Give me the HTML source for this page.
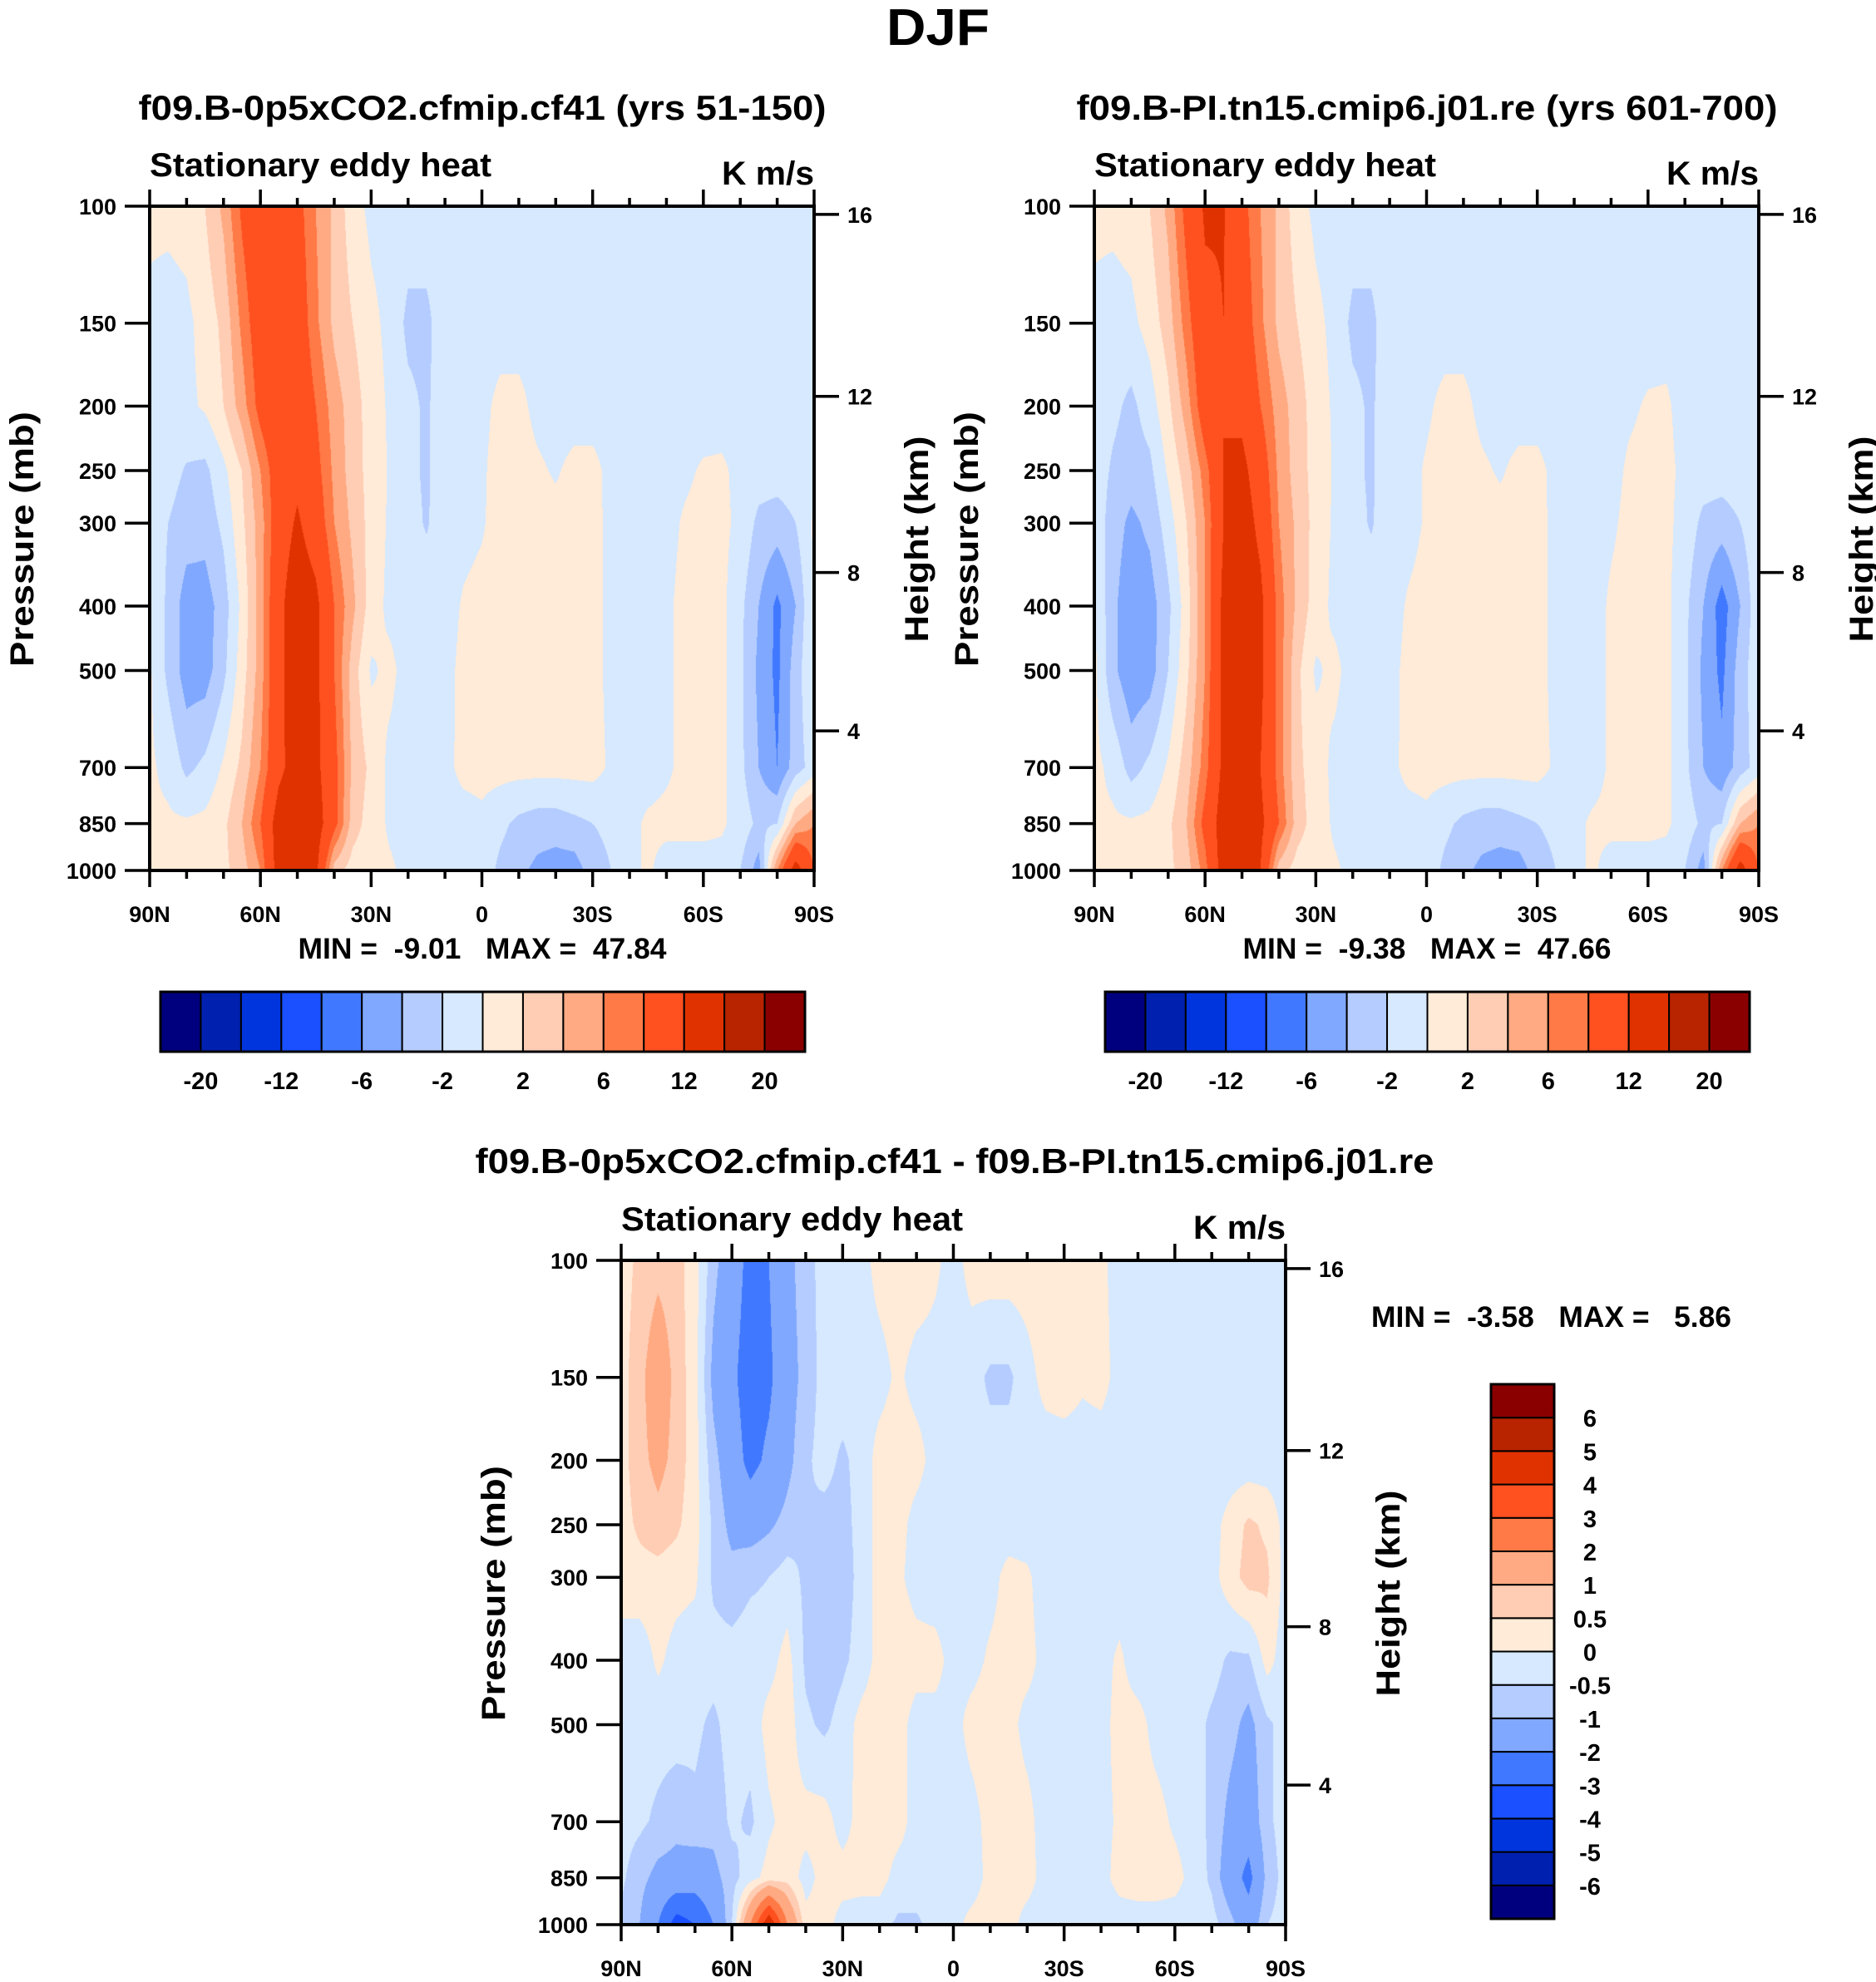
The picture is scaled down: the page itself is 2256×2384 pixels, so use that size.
<!DOCTYPE html>
<html>
<head>
<meta charset="utf-8">
<style>
html,body{margin:0;padding:0;background:#fff;}
#root{position:relative;width:2256px;height:2384px;overflow:hidden;background:#fff;font-family:"Liberation Sans",Arial,sans-serif;}
canvas{position:absolute;}
svg{position:absolute;left:0;top:0;}
text{font-family:"Liberation Sans",Arial,sans-serif;font-weight:bold;fill:#000;}
</style>
</head>
<body>
<div id="root">
<canvas id="c1" width="799" height="799" style="left:180px;top:248px"></canvas>
<canvas id="c2" width="799" height="799" style="left:1316px;top:248px"></canvas>
<canvas id="c3" width="799" height="799" style="left:747px;top:1516px"></canvas>
<svg id="ov" width="2256" height="2384" viewBox="0 0 2256 2384">
<text x="1128" y="54" font-size="62" text-anchor="middle" textLength="124" lengthAdjust="spacingAndGlyphs">DJF</text>
<text x="580" y="144" font-size="42" text-anchor="middle" textLength="827" lengthAdjust="spacingAndGlyphs">f09.B-0p5xCO2.cfmip.cf41 (yrs 51-150)</text>
<text x="1716" y="144" font-size="42" text-anchor="middle" textLength="843" lengthAdjust="spacingAndGlyphs">f09.B-PI.tn15.cmip6.j01.re (yrs 601-700)</text>
<text x="1148" y="1411" font-size="42" text-anchor="middle" textLength="1153" lengthAdjust="spacingAndGlyphs">f09.B-0p5xCO2.cfmip.cf41 - f09.B-PI.tn15.cmip6.j01.re</text>
<text x="580" y="1153" font-size="35" text-anchor="middle" textLength="443" lengthAdjust="spacingAndGlyphs" xml:space="preserve">MIN =  -9.01   MAX =  47.84</text>
<text x="1716" y="1153" font-size="35" text-anchor="middle" textLength="443" lengthAdjust="spacingAndGlyphs" xml:space="preserve">MIN =  -9.38   MAX =  47.66</text>
<text x="1649" y="1596" font-size="35" textLength="433" lengthAdjust="spacingAndGlyphs" xml:space="preserve">MIN =  -3.58   MAX =   5.86</text>
</svg>
</div>
<script>
// ---------- data ----------
const latitudes = [90,85,80,75,70,65,60,55,50,45,40,35,30,25,20,15,10,5,0,-5,-10,-15,-20,-25,-30,-35,-40,-45,-50,-55,-60,-65,-70,-75,-80,-85,-90];
const pressureLevels = [100,150,200,250,300,400,500,700,850,1000];
const pressureTicks = [100,150,200,250,300,400,500,700,850,1000];
const heightTicks = [4,8,12,16];
const latTickLabels = ["90N","60N","30N","0","30S","60S","90S"];
const latTickValues = [90,60,30,0,-30,-60,-90];
const colorTable = ["#00007f","#0020b0","#0035de","#1a50ff","#4078ff","#80a8ff","#b4ccff","#d6e9fe","#ffebd8","#ffcdb4","#ffaa82","#ff7a46","#ff5020","#e03200","#b82300","#8a0000"];
const levelsAbs = [-20,-16,-12,-8,-6,-4,-2,0,2,4,6,8,12,16,20];
const levelsAbsLabels = ["-20","-12","-6","-2","2","6","12","20"];
const levelsDiff = [-6,-5,-4,-3,-2,-1,-0.5,0,0.5,1,2,3,4,5,6];
const levelsDiffLabels = ["-6","-5","-4","-3","-2","-1","-0.5","0","0.5","1","2","3","4","5","6"];

const field1 = [
[0.5,0.5,0.8,2,4.5,8.5,11,11,9,6,3.5,0.8,-0.5,-0.8,-0.8,-0.8,-0.8,-0.8,-0.8,-0.8,-0.8,-0.8,-0.8,-0.8,-0.8,-0.8,-0.8,-0.8,-0.8,-0.8,-0.8,-0.8,-0.8,-0.8,-0.8,-0.8,-0.8],
[-0.5,-0.8,-0.5,0.8,2.5,6.5,10,11,10,6.5,3.5,2,0.5,-0.5,-2.5,-2.5,-0.8,-0.8,-0.8,-0.8,-0.8,-0.8,-0.8,-0.8,-0.8,-0.8,-0.8,-0.8,-0.8,-0.8,-0.8,-0.8,-0.8,-0.8,-0.8,-0.8,-0.8],
[-0.8,-0.8,-0.5,0.3,2,5,9,11,10.5,8,5,3,1,-0.3,-1.5,-2.3,-0.8,-0.8,-0.5,0.5,0.5,-0.5,-0.8,-0.8,-0.8,-0.8,-0.8,-0.8,-0.8,-0.8,-0.8,-0.8,-0.8,-0.8,-0.8,-0.8,-0.8],
[-0.8,-1.2,-2.2,-2.5,-0.5,2,6,10,11,9,5.5,3,1.2,-0.2,-1.5,-2.3,-0.8,-0.6,-0.3,0.8,0.8,0.3,-0.2,0.5,0.5,-0.5,-0.8,-0.8,-0.6,-0.3,0.2,0.3,-0.5,-1,-1,-0.8,-0.5],
[-0.6,-2,-3,-3.2,-1.5,1.5,5,10,12.5,10,6,3.5,1.2,-0.3,-1.2,-2.2,-0.8,-0.6,-0.2,0.8,0.8,0.8,0.6,0.8,0.6,-0.5,-0.8,-0.8,-0.5,0.2,0.5,0.5,-0.5,-2.5,-3,-2,0.3],
[0.3,-2.5,-5,-5,-3,0.5,5,11,14.5,13,8,4.5,1,-0.5,-0.8,-0.8,-0.8,0.2,0.6,0.8,0.8,0.8,0.8,0.8,0.6,-0.5,-0.8,-0.8,-0.3,0.5,0.8,0.5,-1.5,-4,-6.5,-4,0.3],
[0.3,-2.5,-5,-5,-2.5,1,5,11,14.5,13,8,3,-0.3,0.5,-0.8,-0.8,-0.6,0.5,0.7,0.8,0.8,0.8,0.8,0.8,0.6,-0.5,-0.8,-0.8,-0.3,0.5,0.8,0.5,-1.5,-4.5,-6.5,-3,0.2],
[0.3,-0.5,-2.5,-1.5,0.3,2.5,6,11,14,13,9,3.5,1.5,-0.5,-0.8,-0.8,-0.5,0.5,0.7,0.7,0.7,0.7,0.7,0.7,0.7,-0.3,-0.8,-0.8,-0.3,0.5,0.8,0.5,-1.5,-4,-6,-3,-1],
[0.3,0.3,0.3,0.5,1.5,4,8,14,16,14,9,3,1,-0.3,-0.8,-0.8,-0.8,-0.8,-0.5,-1.5,-2.5,-3,-3,-2.5,-2,-1.5,-0.5,0.3,0.5,0.5,0.5,0.3,-0.8,-2.5,-2,4,6],
[0.2,0.5,0.5,0.5,1.5,3,6,14,16,13,3,1,0.5,0.3,-0.5,-0.8,-0.8,-0.8,-0.8,-2.5,-3.5,-4.5,-5,-5,-3,-2,-0.5,0.3,-0.8,-0.8,-0.8,-0.8,-2,-5,6,14,8]
];
const field2 = [
[0.5,0.5,0.8,2,4.5,9,12.5,12.2,9,6,3.5,0.8,-0.5,-0.8,-0.8,-0.8,-0.8,-0.8,-0.8,-0.8,-0.8,-0.8,-0.8,-0.8,-0.8,-0.8,-0.8,-0.8,-0.8,-0.8,-0.8,-0.8,-0.8,-0.8,-0.8,-0.8,-0.8],
[-0.5,-0.8,-0.5,0.8,3,7,11,12,10,6.5,3.5,2,0.5,-0.5,-2.5,-2.5,-0.8,-0.8,-0.8,-0.8,-0.8,-0.8,-0.8,-0.8,-0.8,-0.8,-0.8,-0.8,-0.8,-0.8,-0.8,-0.8,-0.8,-0.8,-0.8,-0.8,-0.8],
[-0.8,-1.5,-2.5,-1,1.5,5,10,12,11,8,5,3,1,-0.3,-1.5,-2.3,-0.8,-0.8,-0.3,0.5,0.5,-0.5,-0.8,-0.8,-0.8,-0.8,-0.8,-0.8,-0.6,-0.3,0.2,0.3,-0.8,-0.8,-0.8,-0.8,-0.6],
[-0.8,-2.3,-3,-2.5,0.3,3,7,12,13,10,5.5,3,1.2,-0.2,-1.5,-2.3,-0.8,-0.6,0.2,0.8,0.8,0.3,-0.2,0.5,0.5,-0.5,-0.8,-0.8,-0.6,0.3,0.6,0.5,-0.5,-1,-1,-0.8,-0.5],
[-0.6,-3,-4.5,-3.5,-1,2,6,12,14,11,6,3.5,1.2,-0.3,-1.2,-2.2,-0.8,-0.6,0.2,0.8,0.8,0.8,0.6,0.8,0.6,-0.5,-0.8,-0.8,-0.3,0.5,0.8,0.5,-0.8,-2.5,-3,-2,-0.5],
[0.3,-3.5,-5.5,-5,-2.5,1,6,13,15,13,7,3.5,1,-0.5,-0.8,-0.8,-0.8,0.2,0.6,0.8,0.8,0.8,0.8,0.8,0.6,-0.5,-0.8,-0.8,0.3,0.7,0.8,0.5,-1.5,-4,-7,-4,-0.5],
[0.5,-3.5,-5.5,-5,-2,1.5,6,13,15,13,7,2.5,-0.3,0.5,-0.8,-0.8,-0.6,0.5,0.7,0.8,0.8,0.8,0.8,0.8,0.6,-0.5,-0.8,-0.8,0.3,0.7,0.8,0.5,-1.5,-4.5,-6.5,-3,-0.5],
[0.5,-0.5,-2.8,-1.5,0.3,3,7,13,14,12,7,2.5,1,-0.5,-0.8,-0.8,-0.5,0.5,0.7,0.7,0.7,0.7,0.7,0.7,0.7,-0.3,-0.8,-0.8,0.3,0.7,0.8,0.5,-1.5,-4,-5.5,-3,-1],
[0.3,0.3,0.3,0.5,1.5,4,9,14,15,13,8,3,1,-0.3,-0.8,-0.8,-0.8,-0.8,-0.5,-1.5,-2.5,-3,-3,-2.5,-2,-1.5,-0.5,0.3,0.5,0.5,0.5,0.3,-0.8,-2.5,-2,4,6],
[0.2,0.5,0.5,0.5,1.5,3,7,14,15,12,3,1,0.5,0.3,-0.5,-0.8,-0.8,-0.8,-0.8,-2.5,-3.5,-4.5,-5,-5,-3,-2,-0.5,0.3,-0.8,-0.8,-0.8,-0.8,-2,-5,6,14,8]
];
const field3 = [
[0.3,0.6,0.8,0.7,0.2,-0.8,-1.5,-2.3,-2,-1.2,-0.7,-0.3,-0.2,-0.2,0.2,0.3,0.3,0.1,-0.2,0.2,0.3,0.3,0.3,0.3,0.3,0.2,0.1,-0.2,-0.3,-0.3,-0.3,-0.3,-0.3,-0.3,-0.3,-0.3,-0.3],
[0.3,0.8,1.5,0.8,0.2,-1.2,-1.8,-2.5,-2.2,-1.3,-0.8,-0.3,-0.2,-0.2,-0.2,0.1,-0.2,-0.2,-0.2,-0.3,-0.6,-0.6,-0.2,0.2,0.3,0.1,0.2,-0.2,-0.3,-0.3,-0.3,-0.3,-0.3,-0.3,-0.3,-0.3,-0.3],
[0.3,0.8,1.2,0.8,0.2,-0.8,-1.5,-2.3,-1.8,-1.2,-0.6,-0.3,-0.6,-0.3,0.2,0.3,0.2,-0.2,-0.3,-0.3,-0.3,-0.3,-0.3,-0.3,-0.3,-0.3,-0.3,-0.3,-0.3,-0.3,-0.3,-0.3,-0.3,-0.3,-0.3,-0.3,-0.3],
[0.3,0.6,0.8,0.6,0.2,-0.6,-1.2,-1.3,-1.1,-0.8,-0.5,-0.7,-0.7,-0.3,0.2,0.2,-0.2,-0.3,-0.3,-0.3,-0.3,-0.3,-0.3,-0.3,-0.3,-0.3,-0.3,-0.3,-0.3,-0.3,-0.3,-0.3,-0.2,0.2,0.6,0.4,-0.2],
[0.2,0.3,0.3,0.2,0.1,-0.6,-0.8,-0.6,-0.5,-0.3,-0.6,-0.8,-0.8,-0.3,0.2,0.1,-0.2,-0.3,-0.3,-0.3,-0.2,0.2,0.1,-0.3,-0.3,-0.3,-0.3,-0.3,-0.3,-0.3,-0.3,-0.3,-0.2,0.3,0.7,0.6,-0.2],
[-0.2,-0.3,0.1,-0.2,-0.3,-0.3,-0.3,-0.2,-0.2,0.2,-0.6,-0.8,-0.6,-0.3,0.2,0.3,0.2,0.2,-0.2,-0.2,0.1,0.2,0.2,-0.2,-0.3,-0.3,-0.2,0.1,-0.3,-0.3,-0.3,-0.3,-0.3,-0.6,-0.6,0.2,-0.3],
[-0.3,-0.3,-0.3,-0.3,-0.4,-0.6,-0.3,-0.3,0.2,0.3,-0.4,-0.6,-0.3,0.2,0.3,0.2,-0.2,-0.2,-0.2,0.2,0.3,0.2,-0.2,-0.3,-0.3,-0.3,-0.2,0.2,0.2,-0.2,-0.3,-0.3,-0.6,-0.8,-1.2,-0.6,-0.3],
[-0.3,-0.4,-0.6,-0.8,-0.6,-0.8,-0.4,-0.6,-0.1,0.2,0.2,0.2,-0.2,0.2,0.3,0.2,-0.2,-0.3,-0.3,-0.2,0.2,0.3,0.2,-0.3,-0.3,-0.3,-0.2,0.1,0.2,0.2,-0.1,-0.3,-0.6,-1.2,-1.5,-0.6,-0.3],
[-0.4,-0.8,-1.2,-1.3,-1.5,-1.2,-0.7,-0.2,0.2,0.3,-0.2,0.2,0.2,0.2,0.2,-0.2,-0.2,-0.3,-0.3,-0.3,0.2,0.2,0.2,-0.2,-0.3,-0.3,-0.2,0.2,0.3,0.3,0.2,-0.2,-0.6,-1.5,-2.3,-0.8,-0.3],
[-0.6,-1,-2,-3.5,-3,-2,-0.5,2,5,2,0.2,0.2,-0.2,-0.3,-0.3,-0.6,-0.6,-0.3,-0.2,0.2,0.3,0.2,-0.2,-0.3,-0.3,-0.3,-0.3,-0.3,-0.3,-0.3,-0.3,-0.3,-0.3,-0.8,-1.5,-0.5,-0.3]
];

// ---------- helpers ----------
const NS = "http://www.w3.org/2000/svg";
const svg = document.getElementById('ov');
function mk(tag, attrs, parent){ const e=document.createElementNS(NS,tag); for(const k in attrs) e.setAttribute(k,attrs[k]); (parent||svg).appendChild(e); return e; }
function hex2rgb(h){ return [parseInt(h.substr(1,2),16),parseInt(h.substr(3,2),16),parseInt(h.substr(5,2),16)]; }
const rgbTable = colorTable.map(hex2rgb);
const PS = 799;
function yOfP(y0, p){ return y0 + PS*Math.log10(p/100); }
function xOfLat(x0, lat){ return x0 + PS*(90-lat)/180; }
function pOfZ(km){ const z=km*1000; if(z<=11000) return 1013.25*Math.pow(1-2.25577e-5*z,5.25588); return 226.32*Math.exp(-(z-11000)/6341.6); }

function interp(grid, lat, p){
  let c=(latitudes[0]-lat)/(latitudes[0]-latitudes[1]);
  c=Math.max(0,Math.min(latitudes.length-1.0001,c));
  const ci=Math.floor(c), cf=c-ci;
  const lp=Math.log10(p);
  let ri=0;
  while(ri<pressureLevels.length-2 && Math.log10(pressureLevels[ri+1])<lp) ri++;
  const a=Math.log10(pressureLevels[ri]), b=Math.log10(pressureLevels[ri+1]);
  let rf=(lp-a)/(b-a); rf=Math.max(0,Math.min(1,rf));
  const v00=grid[ri][ci], v01=grid[ri][ci+1], v10=grid[ri+1][ci], v11=grid[ri+1][ci+1];
  return (v00*(1-cf)+v01*cf)*(1-rf)+(v10*(1-cf)+v11*cf)*rf;
}
function drawField(id, grid, levels){
  const cv=document.getElementById(id), ctx=cv.getContext('2d');
  const W=cv.width,H=cv.height, img=ctx.createImageData(W,H), d=img.data;
  for(let j=0;j<H;j++){
    const p=100*Math.pow(10,(j+0.5)/H);
    for(let i=0;i<W;i++){
      const lat=90-(i+0.5)/W*180;
      const v=interp(grid,lat,p);
      let k=0; for(let m=0;m<levels.length;m++) if(v>=levels[m]) k++;
      const c=rgbTable[k], o=(j*W+i)*4;
      d[o]=c[0];d[o+1]=c[1];d[o+2]=c[2];d[o+3]=255;
    }
  }
  ctx.putImageData(img,0,0);
}

function drawAxes(x0,y0,pfx){
  const g=mk('g',{});
  
  
  const fr=mk('rect',{x:x0,y:y0,width:PS,height:PS,fill:'none',stroke:'#000','stroke-width':4},g);
  
  
  for(let lat=90;lat>=-90;lat-=10){
    const x=xOfLat(x0,lat), major=(lat%30===0), L=major?20:10;
    const t1=mk('line',{x1:x,x2:x,y1:y0,y2:y0-L,stroke:'#000','stroke-width':3.5},g);
    
    
    const t2=mk('line',{x1:x,x2:x,y1:y0+PS,y2:y0+PS+L,stroke:'#000','stroke-width':3.5},g);
    
    
  }
  latTickValues.forEach((lat,i)=>{
    const t=mk('text',{x:xOfLat(x0,lat),y:y0+PS+62,'font-size':27,'text-anchor':'middle'},g);
    t.textContent=latTickLabels[i];
    
    
  });
  pressureTicks.forEach(p=>{
    const y=yOfP(y0,p);
    const l=mk('line',{x1:x0-30,x2:x0,y1:y,y2:y,stroke:'#000','stroke-width':3.5},g);
    
    
    const t=mk('text',{x:x0-40,y:y+10,'font-size':27,'text-anchor':'end'},g);
    t.textContent=String(p);
    
    
  });
  heightTicks.forEach(km=>{
    const y=yOfP(y0,pOfZ(km));
    const l=mk('line',{x1:x0+PS,x2:x0+PS+30,y1:y,y2:y,stroke:'#000','stroke-width':3.5},g);
    
    
    const t=mk('text',{x:x0+PS+40,y:y+10,'font-size':27},g);
    t.textContent=String(km);
    
    
  });
  const st=mk('text',{x:x0,y:y0-36,'font-size':40,textLength:411,lengthAdjust:'spacingAndGlyphs'},g);
  st.textContent='Stationary eddy heat';
  
  
  const un=mk('text',{x:x0+PS,y:y0-26,'font-size':40,'text-anchor':'end',textLength:111,lengthAdjust:'spacingAndGlyphs'},g);
  un.textContent='K m/s';
  
  
  const cy=y0+PS/2;
  const yl=mk('text',{x:0,y:0,'font-size':40,'text-anchor':'middle',textLength:307,lengthAdjust:'spacingAndGlyphs'},g);
  yl.setAttribute('transform',`translate(${x0-140},${cy+1}) rotate(-90)`);
  yl.textContent='Pressure (mb)';
  
  
  const hl=mk('text',{x:0,y:0,'font-size':40,'text-anchor':'middle',textLength:248,lengthAdjust:'spacingAndGlyphs'},g);
  hl.setAttribute('transform',`translate(${x0+PS+137},${cy+1}) rotate(-90)`);
  hl.textContent='Height (km)';
  
  
}

function hColorbar(x0,y0,w,h,pfx){
  const g=mk('g',{});
  
  
  const bw=w/colorTable.length;
  colorTable.forEach((c,i)=>{
    const r=mk('rect',{x:x0+i*bw,y:y0,width:bw,height:h,fill:c,stroke:'#000','stroke-width':2},g);
    
    
  });
  mk('rect',{x:x0,y:y0,width:w,height:h,fill:'none',stroke:'#000','stroke-width':3},g);
  levelsAbsLabels.forEach((lab,i)=>{
    const t=mk('text',{x:x0+(2*i+1)*bw,y:y0+h+45,'font-size':29,'text-anchor':'middle'},g);
    t.textContent=lab;
    
    
  });
}
function vColorbar(x0,y0,w,h,pfx){
  const g=mk('g',{});
  
  
  const n=colorTable.length, bh=h/n;
  colorTable.forEach((c,i)=>{
    const r=mk('rect',{x:x0,y:y0+(n-1-i)*bh,width:w,height:bh,fill:c,stroke:'#000','stroke-width':2},g);
    
    
  });
  mk('rect',{x:x0,y:y0,width:w,height:h,fill:'none',stroke:'#000','stroke-width':3},g);
  levelsDiffLabels.forEach((lab,i)=>{
    const y=y0+(n-1-i)*bh;
    const t=mk('text',{x:x0+w+43,y:y+11,'font-size':29,'text-anchor':'middle'},g);
    t.textContent=lab;
    
    
  });
}

drawField('c1',field1,levelsAbs);
drawField('c2',field2,levelsAbs);
drawField('c3',field3,levelsDiff);
drawAxes(180,248,'panel1');
drawAxes(1316,248,'panel2');
drawAxes(747,1516,'panel3');
hColorbar(193,1193,775,72,'panel1');
hColorbar(1329,1193,775,72,'panel2');
vColorbar(1793,1665,76,643,'panel3');
</script>
</body>
</html>
